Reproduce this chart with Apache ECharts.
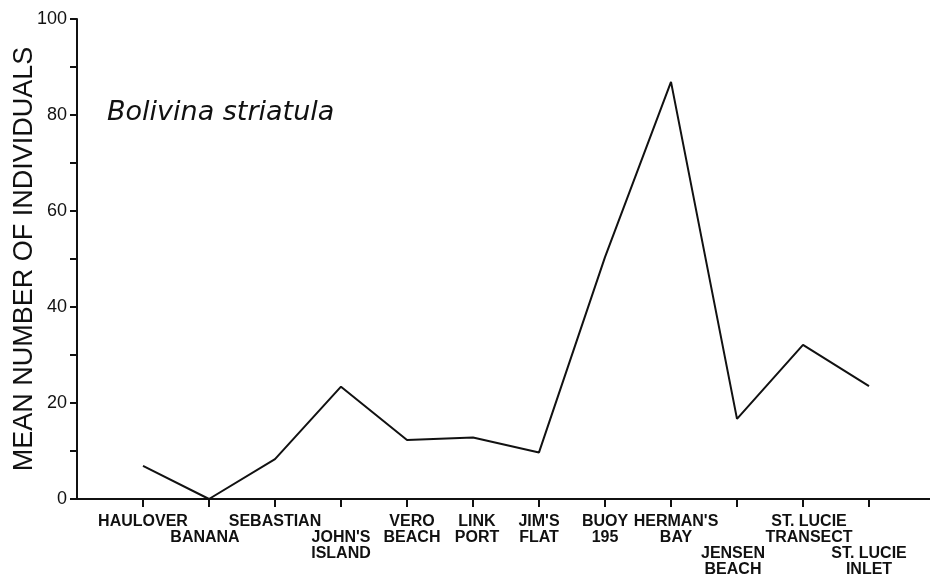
<!DOCTYPE html>
<html>
<head>
<meta charset="utf-8">
<script src="https://cdn.jsdelivr.net/npm/echarts@6/dist/echarts.min.js"></script>
<style>html,body{margin:0;padding:0;background:#fff}#c{width:930px;height:576px}</style>
</head>
<body>
<div id="c"></div>
<script>
// ---- data ----
const categories = ["HAULOVER", "BANANA", "SEBASTIAN", "JOHN'S\nISLAND", "VERO\nBEACH", "LINK\nPORT",
  "JIM'S\nFLAT", "BUOY\n195", "HERMAN'S\nBAY", "JENSEN\nBEACH", "ST. LUCIE\nTRANSECT", "ST. LUCIE\nINLET"];
const meanIndividuals = [6.9, 0, 8.3, 23.4, 12.3, 12.8, 9.7, 50.4, 86.9, 16.7, 32.1, 23.5];
const yTicks = [0, 20, 40, 60, 80, 100];
const titleText = "Bolivina striatula";
const yAxisTitle = "MEAN NUMBER OF INDIVIDUALS";

// ---- layout: label staggering (empty rows above) and small horizontal nudges ----
const labelDrop = {"BANANA": 1, "JOHN'S\nISLAND": 1, "JENSEN\nBEACH": 2, "ST. LUCIE\nINLET": 2};
const labelNudge = {"BANANA": -4, "VERO\nBEACH": 5, "LINK\nPORT": 4, "HERMAN'S\nBAY": 5,
  "JENSEN\nBEACH": -4, "ST. LUCIE\nTRANSECT": 6};

const xData = [''].concat(categories, ['']);
const sData = [null].concat(meanIndividuals, [null]);

const labelFont = {fontFamily: 'Liberation Sans', fontWeight: 'bold', fontSize: 16, lineHeight: 16, color: '#111'};
const rich = {n: Object.assign({}, labelFont)};
Object.keys(labelNudge).forEach(k => {
  const d = labelNudge[k];
  const key = d >= 0 ? 'p' + d : 'm' + (-d);
  rich[key] = Object.assign({}, labelFont, {padding: d >= 0 ? [0, 0, 0, 2 * d] : [0, -2 * d, 0, 0]});
});
function styleKey(v) {
  const d = labelNudge[v];
  if (!d) return 'n';
  return d >= 0 ? 'p' + d : 'm' + (-d);
}

const chart = echarts.init(document.getElementById('c'), null, {renderer: 'canvas'});
chart.setOption({
  animation: false,
  backgroundColor: '#fff',
  title: {
    text: titleText, left: 107, top: 99, padding: 0,
    textStyle: {fontFamily: 'DejaVu Sans', fontStyle: 'italic', fontWeight: 'normal', fontSize: 27, color: '#111'}
  },
  grid: {left: 77, top: 19, width: 858, height: 480, containLabel: false, outerBoundsMode: 'none'},
  xAxis: {
    type: 'category', data: xData, boundaryGap: false,
    axisLine: {lineStyle: {color: '#111', width: 2}},
    axisTick: {show: true, length: 8, lineStyle: {color: '#111', width: 2},
      interval: (i, v) => v !== ''},
    axisLabel: Object.assign({
      interval: 0, margin: 15, verticalAlign: 'top', align: 'center', hideOverlap: false,
      rich: rich,
      formatter: v => {
        if (v === '') return '';
        const k = styleKey(v);
        return '\n'.repeat(labelDrop[v] || 0) + v.split('\n').map(l => '{' + k + '|' + l + '}').join('\n');
      }
    }, labelFont),
    splitLine: {show: false}
  },
  yAxis: {
    type: 'value', min: 0, max: 100, interval: 10,
    name: yAxisTitle, nameLocation: 'middle', nameGap: 39, nameMoveOverlap: false,
    nameTextStyle: {fontFamily: 'Liberation Sans', fontSize: 27, color: '#111'},
    axisLine: {show: true, lineStyle: {color: '#111', width: 2}},
    axisTick: {show: true, length: 7, lineStyle: {color: '#111', width: 2}},
    axisLabel: {
      margin: 10, fontFamily: 'Liberation Sans', fontSize: 18, color: '#111',
      formatter: v => yTicks.indexOf(v) >= 0 ? String(v) : ''
    },
    splitLine: {show: false}
  },
  series: [{
    type: 'line', data: sData, symbol: 'none', connectNulls: false,
    lineStyle: {color: '#111', width: 2}
  }]
});
</script>
</body>
</html>
